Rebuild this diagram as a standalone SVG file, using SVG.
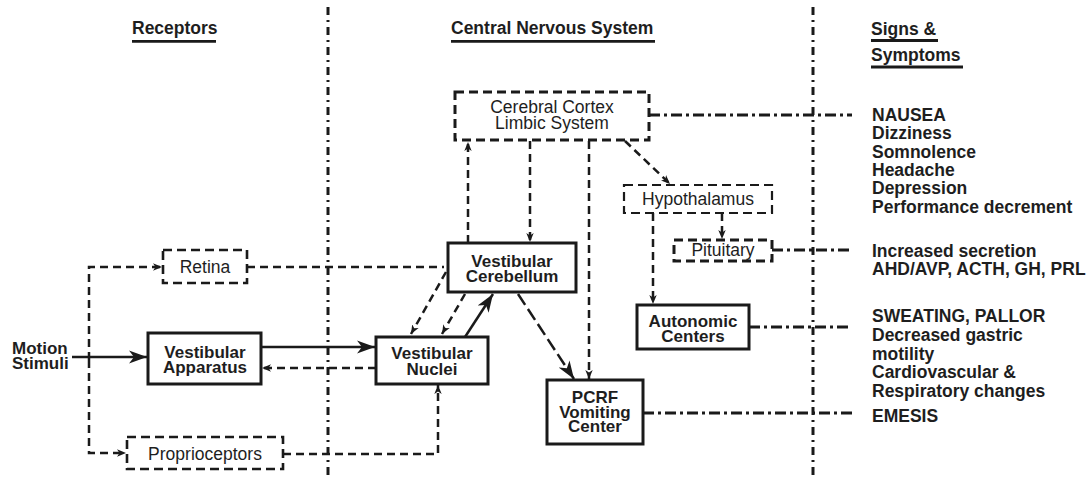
<svg xmlns="http://www.w3.org/2000/svg" width="1090" height="477" viewBox="0 0 1090 477">
<style>
text{font-family:"Liberation Sans",Arial,sans-serif;fill:#1e1e1e}
.b{font-weight:bold;font-size:17px}
.h{font-weight:bold;font-size:17.5px}
.n{font-size:17.5px}
.r{font-weight:bold;font-size:17.5px}
.solid{fill:#fff;stroke:#1a1a1a;stroke-width:3}
.dbox{fill:#fff;stroke:#1a1a1a;stroke-width:2.6;stroke-dasharray:9 5}
.ul{stroke:#1a1a1a;stroke-width:2.8}
.c{fill:none;stroke:#1a1a1a;stroke-width:2.5}
.d{fill:none;stroke:#1a1a1a;stroke-width:2.5;stroke-dasharray:8 5}
.ld{fill:none;stroke:#1a1a1a;stroke-width:2.5;stroke-dasharray:13 5}
.dd{fill:none;stroke:#1a1a1a;stroke-width:2.8;stroke-dasharray:11 4 3 4}
.div{fill:none;stroke:#1a1a1a;stroke-width:3;stroke-dasharray:8 5 2 5}
</style>
<defs>
<marker id="big" markerUnits="userSpaceOnUse" markerWidth="20" markerHeight="14" refX="18" refY="7" orient="auto"><path d="M0,0.5 L18,7 L0,13.5 L5,7 z" fill="#1a1a1a"/></marker>
<marker id="sm" markerUnits="userSpaceOnUse" markerWidth="10" markerHeight="8" refX="9" refY="4" orient="auto"><path d="M0,0.3 L9,4 L0,7.7 L2.5,4 z" fill="#1a1a1a"/></marker>
</defs>
<rect width="1090" height="477" fill="#fff"/>
<g id="headers">
<text class="h" x="132" y="34">Receptors</text>
<line class="ul" x1="132" y1="41.3" x2="216" y2="41.3"/>
<text class="h" x="451" y="34">Central Nervous System</text>
<line class="ul" x1="451" y1="41.3" x2="655" y2="41.3"/>
<text class="h" x="871" y="35">Signs &amp;</text>
<line class="ul" x1="871" y1="40.5" x2="938" y2="40.5"/>
<text class="h" x="871" y="61">Symptoms</text>
<line class="ul" x1="871" y1="67" x2="963" y2="67"/>
</g>
<g id="connectors">
<path class="div" d="M328,7 L328,477"/>
<path class="div" d="M813,7 L813,477"/>
<path class="c" d="M72,357 L147,357" marker-end="url(#big)"/>
<path class="c" d="M261,347 L375,347" marker-end="url(#big)"/>
<path class="d" d="M376,368 L262,368" marker-end="url(#sm)"/>
<path class="c" d="M465,337 L493,294" marker-end="url(#big)"/>
<path class="d" d="M89,360 L89,267 L162,267" marker-end="url(#sm)"/>
<path class="d" d="M89,360 L89,453 L126,453" marker-end="url(#sm)"/>
<path class="d" d="M247,267 L444,267"/>
<path class="d" d="M446,272 L411,334" marker-end="url(#sm)"/>
<path class="d" d="M465,294 L442,334" marker-end="url(#sm)"/>
<path class="d" d="M283,454 L438,454 L438,385" marker-end="url(#sm)"/>
<path class="d" d="M468,243 L468,142" marker-end="url(#sm)"/>
<path class="d" d="M530,141 L530,242" marker-end="url(#sm)"/>
<path class="d" d="M589,141 L589,379" marker-end="url(#sm)"/>
<path class="d" d="M625,141 L670,184" marker-end="url(#sm)"/>
<path class="d" d="M722,213 L722,239" marker-end="url(#sm)"/>
<path class="d" d="M653,213 L653,304" marker-end="url(#sm)"/>
<path class="ld" d="M518,294 L574,379" marker-end="url(#big)"/>
<path class="dd" d="M649,115 L852,115"/>
<path class="dd" d="M772,250 L852,250"/>
<path class="dd" d="M749,327 L852,327"/>
<path class="dd" d="M643,413 L852,413"/>
</g>
<g id="motion-stimuli">
<text class="b" x="12" y="354">Motion</text>
<text class="b" x="12" y="369">Stimuli</text>
</g>
<g id="retina">
<rect class="dbox" x="163" y="250" width="84" height="33"/>
<text class="n" x="205" y="273" text-anchor="middle">Retina</text>
</g>
<g id="vestibular-apparatus">
<rect class="solid" x="148" y="333" width="113" height="51"/>
<text class="b" x="205" y="358" text-anchor="middle">Vestibular</text>
<text class="b" x="205" y="372.5" text-anchor="middle">Apparatus</text>
</g>
<g id="proprioceptors">
<rect class="dbox" x="127" y="437" width="156" height="32"/>
<text class="n" x="205" y="460" text-anchor="middle">Proprioceptors</text>
</g>
<g id="vestibular-nuclei">
<rect class="solid" x="376" y="337" width="112" height="47"/>
<text class="b" x="432" y="359" text-anchor="middle">Vestibular</text>
<text class="b" x="432" y="375" text-anchor="middle">Nuclei</text>
</g>
<g id="vestibular-cerebellum">
<rect class="solid" x="448" y="243" width="128" height="49"/>
<text class="b" x="512" y="267" text-anchor="middle">Vestibular</text>
<text class="b" x="512" y="282" text-anchor="middle">Cerebellum</text>
</g>
<g id="cerebral-cortex">
<rect class="dbox" x="455" y="92" width="194" height="48" style="stroke-width:3"/>
<text class="n" x="552" y="113" text-anchor="middle">Cerebral Cortex</text>
<text class="n" x="552" y="129" text-anchor="middle">Limbic System</text>
</g>
<g id="hypothalamus">
<rect class="dbox" x="624" y="185" width="148" height="28" style="stroke-width:2.2"/>
<text class="n" x="698" y="205" text-anchor="middle">Hypothalamus</text>
</g>
<g id="pituitary">
<rect class="dbox" x="674" y="240" width="98" height="21" style="stroke-width:3"/>
<text class="n" x="723" y="256" text-anchor="middle">Pituitary</text>
</g>
<g id="autonomic-centers">
<rect class="solid" x="637" y="305" width="112" height="44"/>
<text class="b" x="693" y="327" text-anchor="middle">Autonomic</text>
<text class="b" x="693" y="342" text-anchor="middle">Centers</text>
</g>
<g id="pcrf">
<rect class="solid" x="547" y="380" width="96" height="64"/>
<text class="b" x="595" y="403" text-anchor="middle">PCRF</text>
<text class="b" x="595" y="417.5" text-anchor="middle">Vomiting</text>
<text class="b" x="595" y="432" text-anchor="middle">Center</text>
</g>
<g id="symptoms">
<text class="r" x="872" y="121">NAUSEA</text>
<text class="r" x="872" y="139">Dizziness</text>
<text class="r" x="872" y="157.5">Somnolence</text>
<text class="r" x="872" y="175.5">Headache</text>
<text class="r" x="872" y="194">Depression</text>
<text class="r" x="872" y="212.5">Performance decrement</text>
<text class="r" x="872" y="257">Increased secretion</text>
<text class="r" x="872" y="275">AHD/AVP, ACTH, GH, PRL</text>
<text class="r" x="872" y="322">SWEATING, PALLOR</text>
<text class="r" x="872" y="341">Decreased gastric</text>
<text class="r" x="872" y="359.5">motility</text>
<text class="r" x="872" y="378">Cardiovascular &amp;</text>
<text class="r" x="872" y="396.5">Respiratory changes</text>
<text class="r" x="872" y="422">EMESIS</text>
</g>
</svg>
